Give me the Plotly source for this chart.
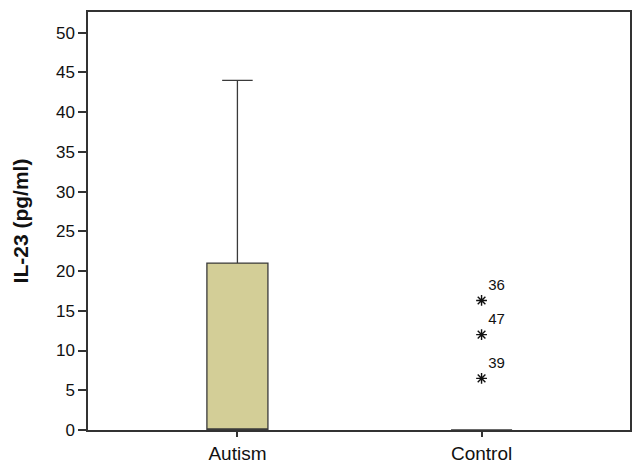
import plotly.graph_objects as go

# Data
categories = ["Autism", "Control"]
q1_vals = [0.0, 0.0]
median_vals = [0.0, 0.0]
q3_vals = [21.0, 0.0]
lower_fence = [0.0, 0.0]
upper_fence = [44.0, 0.0]
outlier_values = [16.3, 12.0, 6.5]
outlier_labels = ["36", "47", "39"]
outlier_category = "Control"
y_ticks = [0, 5, 10, 15, 20, 25, 30, 35, 40, 45, 50]

positions = list(range(len(categories)))
out_x = [categories.index(outlier_category)] * len(outlier_values)

FONT = "Liberation Sans, Arial, sans-serif"
LINE = "#333333"

fig = go.Figure()
fig.add_trace(go.Box(
    x=positions,
    q1=q1_vals, median=median_vals, q3=q3_vals,
    lowerfence=lower_fence, upperfence=upper_fence,
    width=0.25, whiskerwidth=0.5,
    fillcolor="#D3CE97",
    line=dict(color="#3a3a3a", width=1.3),
    boxpoints=False,
    showlegend=False,
))
fig.add_trace(go.Scatter(
    x=out_x, y=outlier_values,
    mode="markers+text",
    marker=dict(symbol="asterisk-open", size=9, color="#111111",
                line=dict(color="#111111", width=1.4)),
    text=outlier_labels,
    textposition="top right",
    textfont=dict(family=FONT, size=15, color="#111111"),
    showlegend=False,
))

fig.update_layout(
    width=635, height=467,
    margin=dict(l=88, r=3, t=12, b=35),
    paper_bgcolor="white", plot_bgcolor="white",
    font=dict(family=FONT, color="#111111"),
)
fig.update_yaxes(
    range=[0, 52.6],
    tickvals=y_ticks,
    ticks="outside", ticklen=8, tickwidth=1.5, tickcolor=LINE,
    tickfont=dict(size=17, family=FONT, color="#111111"),
    showline=True, mirror=True, linecolor=LINE, linewidth=1.5,
    showgrid=False, zeroline=False,
    title=dict(text="<b>IL-23 (pg/ml)</b>", font=dict(size=21, family=FONT, color="#111111"), standoff=22),
)
fig.update_xaxes(
    range=[-0.612, 1.608],
    tickvals=positions, ticktext=categories,
    ticks="outside", ticklen=5, tickwidth=1.5, tickcolor=LINE,
    tickfont=dict(size=19, family=FONT, color="#111111"),
    showline=True, mirror=True, linecolor=LINE, linewidth=1.5,
    showgrid=False, zeroline=False,
)

fig.write_html("out.html")
